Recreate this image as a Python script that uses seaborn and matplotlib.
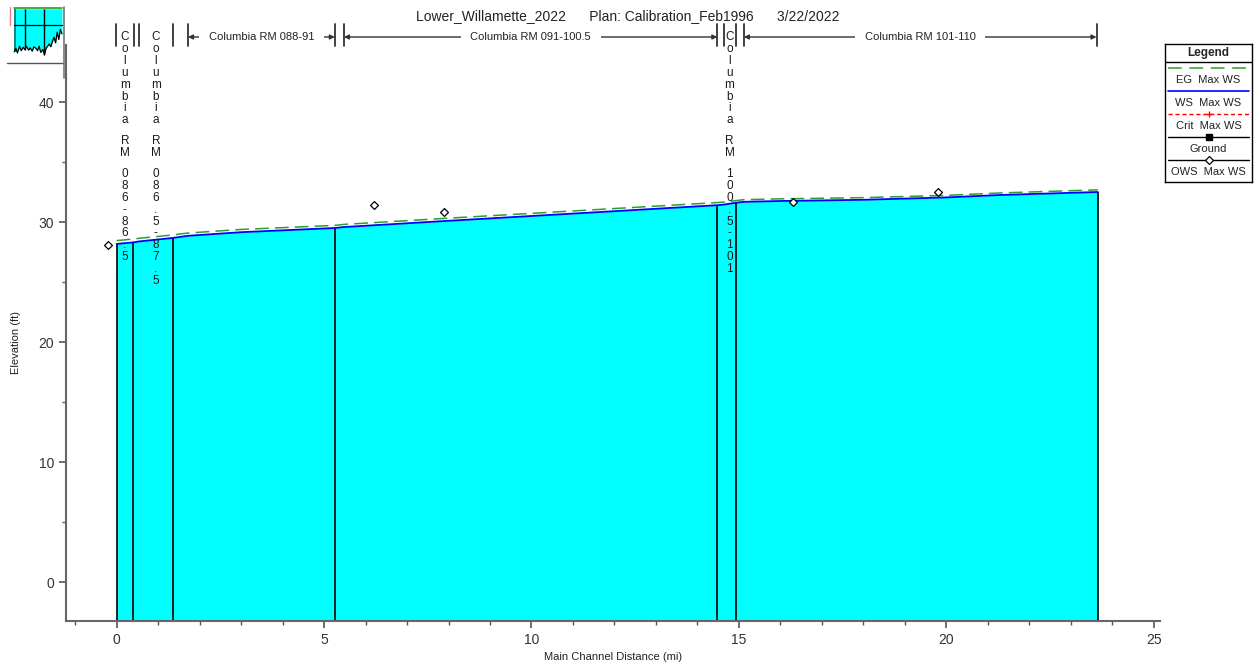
import matplotlib
matplotlib.use("Agg")
import matplotlib.pyplot as plt
import matplotlib.transforms as mtransforms
from matplotlib.ticker import MultipleLocator
import seaborn as sns

sns.set_style("ticks")
plt.rcParams["font.family"] = ["Liberation Sans", "DejaVu Sans"]

# water surface profile (main channel distance in mi, elevation in ft)
station = [0, 0.4, 0.54, 1.35, 1.72, 3.0, 5.26, 5.48, 8.0, 11.0, 14.48,
           14.63, 14.92, 15.12, 16.0, 18.0, 20.0, 21.3, 23.65]
ws_max = [28.17, 28.3, 28.38, 28.67, 28.85, 29.15, 29.5, 29.58, 30.1, 30.7, 31.4,
          31.45, 31.6, 31.68, 31.75, 31.85, 32.05, 32.25, 32.5]
eg_max = [28.45, 28.58, 28.64, 28.92, 29.08, 29.38, 29.72, 29.8, 30.32, 30.92, 31.62,
          31.66, 31.78, 31.86, 31.93, 32.03, 32.22, 32.42, 32.68]

# observed water surface
ows_x = [-0.2, 6.2, 7.9, 16.3, 19.8]
ows_y = [28.1, 31.4, 30.85, 31.65, 32.5]

# structure / reach boundary lines
boundary_x = [0, 0.4, 1.35, 5.26, 14.48, 14.92, 23.65]
boundary_ws = [28.17, 28.3, 28.67, 29.5, 31.4, 31.6, 32.5]

# reaches drawn across the top
reach_names = ["Columbia RM 086-86.5", "Columbia RM 086.5-87.5", "Columbia RM 088-91",
               "Columbia RM 091-100.5", "Columbia RM 100.5-101", "Columbia RM 101-110"]
reach_start = [-0.02, 0.54, 1.72, 5.48, 14.63, 15.12]
reach_end = [0.42, 1.35, 5.26, 14.48, 14.92, 23.62]
reach_vertical = [True, True, False, False, True, False]

# small overview thumbnail (normalised ground profile)
thumb_x = [0.08, 0.11, 0.14, 0.18, 0.21, 0.25, 0.28, 0.31, 0.35, 0.38, 0.42, 0.45,
           0.49, 0.52, 0.55, 0.58, 0.62, 0.65, 0.68, 0.71, 0.74, 0.77, 0.8, 0.83,
           0.86, 0.89, 0.92, 0.95, 0.98]
thumb_y = [0.2, 0.26, 0.18, 0.3, 0.22, 0.28, 0.24, 0.3, 0.23, 0.27, 0.21, 0.29,
           0.26, 0.22, 0.3, 0.19, 0.24, 0.14, 0.26, 0.3, 0.34, 0.29, 0.38, 0.46,
           0.36, 0.55, 0.42, 0.6, 0.52]

W, H = 1255, 664
fig = plt.figure(figsize=(W / 100, H / 100), dpi=100)


def fy(py):
    return 1 - py / H


ax = fig.add_axes([66 / W, fy(621), (1160 - 66) / W, (621 - 45) / H])
ax.set_xlim(-1.22, 25.15)
ax.set_ylim(-3.25, 44.75)

ymin = ax.get_ylim()[0]
ax.fill_between(station, ws_max, ymin, color="#00ffff", lw=0, zorder=1)
ax.vlines(boundary_x, ymin, boundary_ws, color="black", lw=1.2, zorder=2)

sns.lineplot(x=station, y=eg_max, ax=ax, color="#2e9e2e", lw=1.1,
             linestyle=(0, (9, 4)), zorder=3)
sns.lineplot(x=station, y=ws_max, ax=ax, color="#0000ff", lw=1.3, zorder=4)
sns.scatterplot(x=ows_x, y=ows_y, ax=ax, marker="D", s=16, facecolor="white",
                edgecolor="black", linewidth=0.9, zorder=5)

ax.xaxis.set_major_locator(MultipleLocator(5))
ax.xaxis.set_minor_locator(MultipleLocator(1))
ax.yaxis.set_major_locator(MultipleLocator(10))
ax.yaxis.set_minor_locator(MultipleLocator(5))
for side in ["top", "right"]:
    ax.spines[side].set_visible(False)
for side in ["left", "bottom"]:
    ax.spines[side].set_color("#666666")
    ax.spines[side].set_linewidth(1.5)
ax.tick_params(which="major", length=5, width=1.2, color="#555555",
               labelsize=10, labelcolor="#333333")
ax.tick_params(which="minor", length=3, width=1.0, color="#555555")
ax.set_xlabel("")
ax.set_ylabel("")
fig.text(613 / W, fy(657), "Main Channel Distance (mi)", ha="center", va="center",
         fontsize=8, color="#222222")
fig.text(16 / W, fy(342), "Elevation (ft)", ha="center", va="center", rotation=90,
         fontsize=8, color="#222222")

fig.text(0.5, fy(16), "Lower_Willamette_2022      Plan: Calibration_Feb1996      3/22/2022",
         ha="center", va="center", fontsize=10, color="#222222")

# reach annotations above the plot
trans = mtransforms.blended_transform_factory(ax.transData, fig.transFigure)
for name, x0, x1, vert in zip(reach_names, reach_start, reach_end, reach_vertical):
    for xb in (x0, x1):
        ax.plot([xb, xb], [fy(24), fy(46)], color="#333333", lw=1.3,
                transform=trans, clip_on=False)
    xm = (x0 + x1) / 2
    if vert:
        yy = 37
        for ch in name:
            if ch == " ":
                yy += 9
                continue
            ax.text(xm, fy(yy), ch, transform=trans, ha="center", va="center",
                    fontsize=8.5, color="#1a1a1a", zorder=6, clip_on=False)
            yy += 11.9
    else:
        ax.annotate("", xy=(x0, fy(37)), xytext=(x1, fy(37)), xycoords=trans,
                    textcoords=trans,
                    arrowprops=dict(arrowstyle="<|-|>", color="#333333", lw=1.0,
                                    mutation_scale=7, shrinkA=0, shrinkB=0))
        ax.text(xm, fy(37), name, transform=trans, ha="center", va="center",
                fontsize=8, color="#222222", clip_on=False,
                bbox=dict(facecolor="white", edgecolor="none", pad=7))

# legend box
lax = fig.add_axes([1165 / W, fy(182), 87 / W, 138 / H])
lax.set_xlim(0, 87)
lax.set_ylim(138, 0)
lax.set_xticks([])
lax.set_yticks([])
for sp in lax.spines.values():
    sp.set_color("black")
    sp.set_linewidth(1.0)
lax.text(43.5, 9, "Legend", ha="center", va="center", fontsize=8.5, fontweight="bold")
lax.plot([0, 87], [18, 18], color="black", lw=1.0)
lax.plot([3, 84], [24, 24], color="#2e9e2e", lw=1.1, linestyle=(0, (9, 5)))
lax.plot([3, 84], [47, 47], color="#0000ff", lw=1.2)
lax.plot([3, 84], [70, 70], color="red", lw=1.0, linestyle=(0, (3, 2)))
lax.plot([43.5], [70], marker="+", color="red", ms=5, mew=1)
lax.plot([3, 84], [93, 93], color="black", lw=1.0)
lax.plot([43.5], [93], marker="s", color="black", ms=4)
lax.plot([3, 84], [116, 116], color="black", lw=1.0)
lax.plot([43.5], [116], marker="D", mfc="white", mec="black", ms=4, mew=0.9)
legend_labels = ["EG  Max WS", "WS  Max WS", "Crit  Max WS", "Ground", "OWS  Max WS"]
for i, lab in enumerate(legend_labels):
    lax.text(43.5, 36 + i * 23, lab, ha="center", va="center", fontsize=8,
             color="#222222")

# overview thumbnail
tax = fig.add_axes([10 / W, fy(63), 53 / W, 56 / H])
tax.set_xlim(0, 1)
tax.set_ylim(0, 1)
tax.set_xticks([])
tax.set_yticks([])
for sp in tax.spines.values():
    sp.set_visible(False)
tax.fill_between(thumb_x, thumb_y, 0.97, color="#00ffff", lw=0)
tax.fill_between([0.08, 0.12], [0.2, 0.2], 0.97, color="#118888", lw=0)
tax.plot(thumb_x, thumb_y, color="black", lw=0.9)
tax.plot([0.08, 0.98], [0.98, 0.98], color="#22a022", lw=1.2)
tax.plot([0.08, 0.98], [0.68, 0.68], color="black", lw=0.9)
tax.vlines([0.29, 0.64], [0.24, 0.2], 0.97, color="black", lw=1.0)
tax.plot([0.0, 0.0], [0.68, 1.0], color="#f08080", lw=1.0, clip_on=False)
fig.add_artist(plt.Line2D([7 / W, 63 / W], [fy(63), fy(63)], color="#555555", lw=1.0))
fig.add_artist(plt.Line2D([64 / W, 64 / W], [fy(7), fy(78)], color="#777777", lw=1.2))

fig.savefig("out.png", dpi=100)
